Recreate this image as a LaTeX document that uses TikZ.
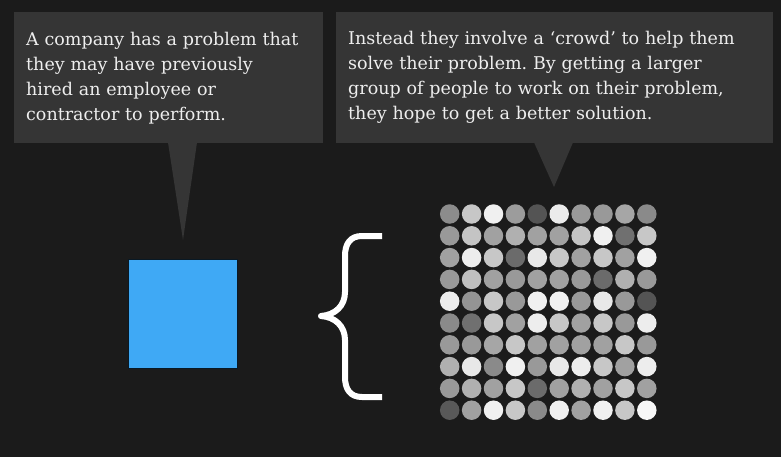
\documentclass[tikz,border=0pt]{standalone}
\usepackage{fontspec}
\setmainfont{DejaVu Serif}
\usetikzlibrary{positioning, calc}
\definecolor{BgDark}{HTML}{1B1B1B}
\definecolor{BoxGray}{HTML}{353535}
\definecolor{TextLight}{HTML}{EEEEEE}
\definecolor{CompanyBlue}{HTML}{3FA9F5}
\frenchspacing
\tikzset{
    bubble/.style={fill=BoxGray, text=TextLight, anchor=north west, align=left, inner xsep=12pt, inner ysep=0pt, minimum height=131pt, font=\fontsize{17.5}{25}\selectfont},
    pointer/.style={fill=BoxGray},
    company/.style={fill=CompanyBlue, draw=black!85!CompanyBlue, line width=1pt, minimum size=109pt, inner sep=0pt},
    member/.style={circle, minimum size=19.5pt, inner sep=0pt},
    brace/.style={draw=white, line width=6pt, line join=round}
}

\begin{document}
\begin{tikzpicture}[x=1pt, y=-1pt]
    \useasboundingbox (0,0) rectangle (781,457);
    \fill[BgDark] (0,0) rectangle (781,457);

    % Callouts (top row)
    \node[bubble, text width=285pt] (problem) at (14,12) {A company has a problem that\\they may have previously\\hired an employee or\\contractor to perform.};
    \node[bubble, text width=413pt] (crowd) at (336,12) {Instead they involve a ‘crowd’ to help them\\solve their problem. By getting a larger\\group of people to work on their problem,\\they hope to get a better solution.};

    \coordinate (problemtip) at (183,240);
    \coordinate (crowdtip) at (554,187);
    \fill[pointer] ($(problemtip |- problem.south)+(-15,-1)$) -- (problemtip) -- ($(problemtip |- problem.south)+(14,-1)$) -- cycle;
    \fill[pointer] ($(crowdtip |- crowd.south)+(-20,-1)$) -- (crowdtip) -- ($(crowdtip |- crowd.south)+(19,-1)$) -- cycle;

    % Company (left)
    \node[company] (company) at (182.5,313.5) {};

    % Brace
    \draw[brace] (382,236) -- (362,236) .. controls (350,236) and (345,244) .. (345,256) -- (345,292)
        .. controls (345,306) and (335,315) .. (321,316)
        .. controls (335,317) and (345,326) .. (345,340) -- (345,377)
        .. controls (345,389) and (350,397) .. (362,397) -- (382,397);

    % Crowd grid (right)
    \foreach \shades [count=\r] in {
        {55,78,94,61,33,92,60,60,65,54},
        {60,77,63,69,63,63,77,94,44,78},
        {63,93,78,42,91,78,63,78,63,94},
        {60,75,63,60,63,63,60,42,69,60},
        {93,58,78,60,94,94,60,91,60,33},
        {54,44,78,63,93,78,63,78,60,93},
        {60,60,65,78,63,63,63,63,78,60},
        {69,91,54,94,60,91,93,78,63,93},
        {60,69,63,78,42,63,69,63,78,63},
        {35,63,94,78,54,94,63,94,78,97}}
        \foreach \g [count=\c] in \shades
            \node[member, fill=white!\g!black] (m-\r-\c) at ({449.7+21.9*(\c-1)}, {214+21.8*(\r-1)}) {};
\end{tikzpicture}
\end{document}
